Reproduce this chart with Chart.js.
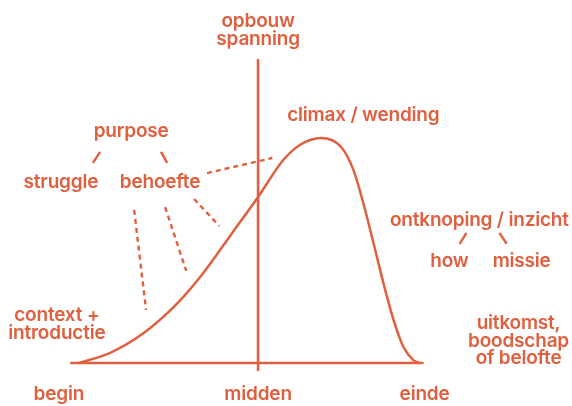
<!DOCTYPE html>
<html>
<head>
<meta charset="utf-8">
<script src="https://cdn.jsdelivr.net/npm/chart.js@4"></script>
<style>
  html, body { margin: 0; padding: 0; background: #ffffff; }
</style>
</head>
<body>
<canvas id="arc" width="572" height="406"></canvas>
<script>
// verhaalboog: spanning over verloop van het verhaal
var progress = [0, 9, 19, 29, 36.5, 45, 52.6, 60, 65, 71, 77, 80.6, 83.5, 86.5, 89.4, 92.4, 95.3, 98.2, 100];
var tension = [0, 4.4, 13.3, 26.7, 40, 57.8, 73.8, 90.2, 97, 100, 96, 85.8, 71.1, 53.3, 35.6, 19.1, 7.1, 1.3, 0];

// as-lijnen
var baseX = [-2.6, 101.2];
var baseY = [0, 0];
var midX = [52.6, 52.6];
var midY = [135.1, -3.6];

// stippellijnen vanaf "behoefte"
var dashX = [[37.6, 56.8], [33.8, 41.2], [25.3, 31.5], [16.2, 19.7]];
var dashY = [[84.4, 91.1], [72.9, 60.9], [69.3, 40.9], [68, 23.6]];

// korte schuine streepjes
var tickX = [[6.2, 4.1], [24.1, 25.9], [113.8, 111.8], [123.5, 125.6]];
var tickY = [[93.8, 88.9], [93.8, 88.9], [57.8, 52.9], [57.8, 52.9]];

// teksten
var labelTexts = ['opbouw', 'spanning', 'climax / wending', 'purpose', 'struggle', 'behoefte',
  'ontknoping / inzicht', 'how', 'missie', 'context +', 'introductie',
  'uitkomst,', 'boodschap', 'of belofte', 'begin', 'midden', 'einde'];
var labelX = [52.6, 52.6, 83.5, 15.3, -5.3, 23.8, 117.6, 108.8, 130, -6.5, -6.5, 129.1, 129.1, 129.1, -5.9, 52.6, 101.5];
var labelY = [152, 144, 110.2, 103.1, 80.4, 80.4, 63.6, 45.3, 45.3, 21.3, 13.3, 17.8, 9.8, 2.2, -13.8, -13.8, -13.8];

var orange = '#df5f3e';

function pts(xs, ys) {
    var out = [];
    for (var i = 0; i < xs.length; i++) out.push({ x: xs[i], y: ys[i] });
    return out;
}

var datasets = [];
datasets.push({ data: pts(progress, tension), borderColor: orange, borderWidth: 2.5, cubicInterpolationMode: 'monotone' });
datasets.push({ data: pts(baseX, baseY), borderColor: orange, borderWidth: 2.6 });
datasets.push({ data: pts(midX, midY), borderColor: orange, borderWidth: 2.6 });
for (var d = 0; d < dashX.length; d++) {
    datasets.push({ data: pts(dashX[d], dashY[d]), borderColor: orange, borderWidth: 2.4, borderDash: [5, 4] });
}
for (var t = 0; t < tickX.length; t++) {
    datasets.push({ data: pts(tickX[t], tickY[t]), borderColor: orange, borderWidth: 2.4 });
}
datasets.forEach(function (ds) {
    ds.showLine = true;
    ds.pointRadius = 0;
    ds.pointHoverRadius = 0;
    ds.fill = false;
    ds.clip = false;
});

var textPlugin = {
    id: 'arcLabels',
    afterDatasetsDraw: function (chart) {
        var ctx = chart.ctx;
        var sx = chart.scales.x, sy = chart.scales.y;
        ctx.save();
        ctx.fillStyle = orange;
        ctx.font = '600 19px Inter';
        ctx.letterSpacing = '-0.2px';
        ctx.textAlign = 'center';
        ctx.textBaseline = 'middle';
        for (var i = 0; i < labelTexts.length; i++) {
            ctx.fillText(labelTexts[i], sx.getPixelForValue(labelX[i]), sy.getPixelForValue(labelY[i]));
        }
        ctx.restore();
    }
};

new Chart('arc', {
    type: 'scatter',
    data: { datasets: datasets },
    options: {
        responsive: false,
        animation: false,
        layout: { padding: 0 },
        plugins: { legend: { display: false }, tooltip: { enabled: false } },
        scales: {
            x: { type: 'linear', min: -23.2, max: 144.8, display: false },
            y: { type: 'linear', min: -19.1, max: 161.3, display: false }
        }
    },
    plugins: [textPlugin]
});
</script>
</body>
</html>
